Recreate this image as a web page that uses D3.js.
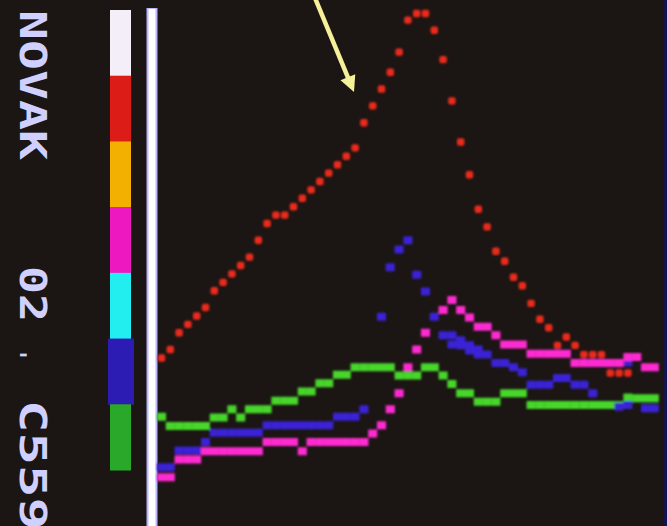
<!DOCTYPE html>
<html><head><meta charset="utf-8">
<script src="https://cdn.jsdelivr.net/npm/d3@7"></script>
<style>html,body{margin:0;padding:0;background:#1b1613;overflow:hidden}svg{display:block}</style>
</head><body><svg id="c" width="667" height="526"></svg>
<script>
// ---- data (display columns 0..56, values in display rows) ----
const columns = d3.range(57);
const redValues = [20,21,23,24,25,26,28,29,30,31,32,34,36,37,37,38,39,40,41,42,43,44,45,
  48,50,52,54,56.4,60.2,61,61,59,55.5,50.6,45.7,41.8,37.7,35.6,32.7,31.5,29.6,28.6,26.5,24.6,
  23.6,21.5,22.5,21.5,20.4,20.4,20.4,18.2,18.2,18.2];
const pinkValues = [5.8,5.8,7.9,7.9,7.9,8.9,8.9,8.9,8.9,8.9,8.9,8.9,10,10,10,10,8.9,10,10,10,10,10,10,10,
  11,12,13.9,15.8,18.9,21,23,null,25.7,26.9,25.7,24.8,23.7,23.7,22.7,21.6,21.6,21.6,
  20.5,20.5,20.5,20.5,20.5,19.4,19.4,19.4,19.4,19.4,19.4,20.1,20.1,18.9,18.9];
const blueValues = [7,7,9,9,9,10,11.1,11.1,11.1,11.1,11.1,11.1,12,12,12,12,12,12,12,12,13,13,13,13.9,
  null,24.9,30.8,32.9,34,29.9,27.9,24.9,22.7,22.7,22.1,21.5,21,20.4,19.4,19.4,18.9,18.3,
  16.8,16.8,16.8,17.6,17.6,16.8,16.8,15.8,null,null,14.2,14.4,null,14,14];
const blueExtraCols = [33,34,35,36,53];
const blueExtraValues = [21.6,21.5,20.9,20.4,19.5];
const greenValues = [13,11.9,11.9,11.9,11.9,11.9,12.9,12.9,13.9,12.9,13.9,13.9,13.9,14.9,14.9,14.9,
  16,16,17,17,18,18,18.9,18.9,18.9,18.9,18.9,17.9,17.9,17.9,18.9,18.9,17.9,16.9,15.8,15.8,
  14.8,14.8,14.8,15.8,15.8,15.8,14.4,14.4,14.4,14.4,14.4,14.4,14.4,14.4,14.4,14.4,14.4,15.3,15.2,15.2,15.2];
const legendColors = ["#f3eef7","#dc1c16","#f4b000","#ee18c0","#22eef0","#2c1cb4","#2aa82a"];
const labelParts = ["NOVAK","02",".","C559"];

// ---- layout ----
const svg = d3.select("#c");
const W = 667, H = 526;
svg.append("rect").attr("width",W).attr("height",H).attr("fill","#1b1613");
svg.append("rect").attr("x",664).attr("width",3).attr("height",H).attr("fill","#141250");

const defs = svg.append("defs");
const f = defs.append("filter").attr("id","glow").attr("x","-20%").attr("y","-20%").attr("width","140%").attr("height","140%");
f.append("feGaussianBlur").attr("stdDeviation",0.9);

const x = d3.scaleLinear().domain([0,57]).range([161.5, 161.5 + 57*8.8]);
const y = d3.scaleLinear().domain([0,62.6]).range([526,0]);
const cw = 8.8, ch = 8.0;

// legend colour bar
const band = d3.scaleBand().domain(d3.range(legendColors.length)).range([10,470]);
svg.append("g").selectAll("rect").data(legendColors).join("rect")
  .attr("x",(d,i)=> i===5 ? 108 : 110).attr("width",(d,i)=> i===5 ? 26 : 21)
  .attr("y",(d,i)=>band(i)).attr("height",band.bandwidth()+0.5)
  .attr("fill",d=>d);

// axis line
svg.append("rect").attr("x",146.5).attr("y",8).attr("width",11).attr("height",H-8).attr("fill","#b8b6ff");
svg.append("rect").attr("x",148.5).attr("y",9).attr("width",7).attr("height",H-9).attr("fill","#ffffff");

// rotated label
const labelPos = [{y:10,len:150},{y:266,len:56},{y:350,len:10},{y:400,len:130}];
const lg = svg.append("g");
labelParts.forEach((t,i)=>{
  const p = labelPos[i];
  lg.append("text").attr("transform",`translate(20,${p.y}) rotate(90)`)
    .attr("font-family","DejaVu Sans Mono").attr("font-weight","bold").attr("font-size",37)
    .attr("fill","#cfd0ff").attr("textLength",p.len).attr("lengthAdjust","spacingAndGlyphs")
    .text(t);
});

const marks = svg.append("g").attr("filter","url(#glow)");
function blocks(vals, color, w, h, rx, cols){
  const data = (cols ? cols.map((c,i)=>({c, v: vals[i]})) : vals.map((v,c)=>({c,v}))).filter(d=>d.v!=null);
  marks.append("g").selectAll("rect").data(data).join("rect")
    .attr("x",d=>x(d.c)-w/2).attr("y",d=>y(d.v)-h/2)
    .attr("width",w).attr("height",h).attr("rx",rx).attr("fill",color);
}
blocks(greenValues, "#46d62c", cw+0.3, ch, 0.5);
blocks(blueValues, "#3a22d6", cw+0.3, ch, 1);
blocks(blueExtraValues, "#3a22d6", cw+0.3, ch, 1, blueExtraCols);
blocks(pinkValues, "#ff2ad2", cw+0.3, ch, 0.5);
blocks(redValues, "#ec2a1e", 7.4, 7.4, 2);

// annotation arrow
const ax0 = 315, ay0 = -2, ax1 = 354, ay1 = 92;
const len = Math.hypot(ax1-ax0, ay1-ay0), ux = (ax1-ax0)/len, uy = (ay1-ay0)/len;
const bx = ax1 - 16*ux, by = ay1 - 16*uy, px = -uy, py = ux;
svg.append("line").attr("x1",ax0).attr("y1",ay0).attr("x2",bx+ux*2).attr("y2",by+uy*2)
  .attr("stroke","#f6f09a").attr("stroke-width",4.5);
svg.append("path").attr("d",`M${ax1},${ay1}L${bx+px*8},${by+py*8}L${bx-px*8},${by-py*8}Z`).attr("fill","#f6f09a");
</script></body></html>
